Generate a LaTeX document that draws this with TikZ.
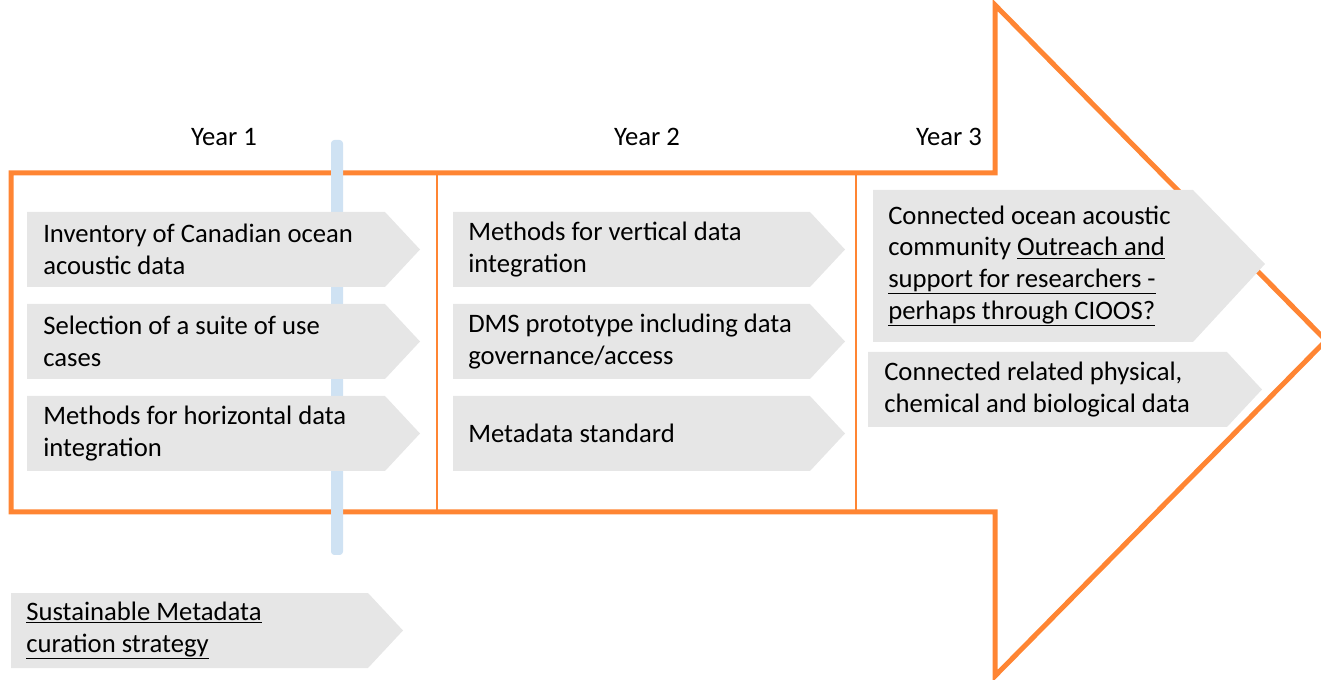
\documentclass[tikz,border=0pt]{standalone}
\usepackage{fontspec}
\setmainfont{Carlito}

\definecolor{arroworange}{RGB}{255,133,51}
\definecolor{chevgray}{RGB}{230,230,230}
\definecolor{barblue}{RGB}{207,226,243}

\tikzset{
  milestone/.style={anchor=west,inner sep=0.75pt,align=left,font=\fontsize{20}{23.8}\selectfont},
  yearlabel/.style={inner sep=0.75pt,font=\fontsize{20}{23.8}\selectfont},
}

\begin{document}
\begin{tikzpicture}[x=0.75pt,y=0.75pt,yscale=-1,xscale=1]
\useasboundingbox (0,0) rectangle (1321,680);

%Big Arrow [id:outline] 
\draw [color=arroworange][line width=3.75pt]  (11,173) -- (995,173) -- (995,5) -- (1326,340.5) -- (995,676) -- (995,512) -- (11,512) -- cycle ;
%Straight Lines [id:divider1] 
\draw [color=arroworange][line width=1.5pt]  (437,173) -- (437,512) ;
%Straight Lines [id:divider2] 
\draw [color=arroworange][line width=1.5pt]  (856,173) -- (856,512) ;
%Rounded Rect [id:bluebar] 
\fill [color=barblue][rounded corners=2.5pt]  (331,140) rectangle (343,555) ;

%Pentagon Arrow [id:year1a] 
\fill [color=chevgray]  (27,212) -- (385,212) -- (420,249.5) -- (385,287) -- (27,287) -- cycle ;
%Pentagon Arrow [id:year1b] 
\fill [color=chevgray]  (27,304) -- (385,304) -- (420,341.5) -- (385,379) -- (27,379) -- cycle ;
%Pentagon Arrow [id:year1c] 
\fill [color=chevgray]  (27,396) -- (385,396) -- (420,433.5) -- (385,471) -- (27,471) -- cycle ;
%Pentagon Arrow [id:year2a] 
\fill [color=chevgray]  (453,212) -- (810,212) -- (845,249.5) -- (810,287) -- (453,287) -- cycle ;
%Pentagon Arrow [id:year2b] 
\fill [color=chevgray]  (453,304) -- (810,304) -- (845,341.5) -- (810,379) -- (453,379) -- cycle ;
%Pentagon Arrow [id:year2c] 
\fill [color=chevgray]  (453,396) -- (810,396) -- (845,433.5) -- (810,471) -- (453,471) -- cycle ;
%Pentagon Arrow [id:year3a] 
\fill [color=chevgray]  (873,190) -- (1193,190) -- (1265,264) -- (1193,342) -- (873,342) -- cycle ;
%Pentagon Arrow [id:year3b] 
\fill [color=chevgray]  (868,352) -- (1227,352) -- (1262,389.5) -- (1227,427) -- (868,427) -- cycle ;
%Pentagon Arrow [id:curation] 
\fill [color=chevgray]  (11,593) -- (368,593) -- (403,630.5) -- (368,668) -- (11,668) -- cycle ;

% Text Node
\draw (224,137) node [yearlabel] (y1) {Year 1};
% Text Node
\draw (647,137) node [yearlabel] (y2) {Year 2};
% Text Node
\draw (949,137) node [yearlabel] (y3) {Year 3};

% Text Node
\draw (42,249.5) node [milestone] (inv) {Inventory of Canadian ocean\\acoustic data};
% Text Node
\draw (42,341.5) node [milestone] (sel) {Selection of a suite of use\\cases};
% Text Node
\draw (42,433.5) node [milestone] (horiz) {Methods for horizontal data\\integration};
% Text Node
\draw (467,249.5) node [milestone] (vert) {Methods for vertical data\\integration};
% Text Node
\draw (467,341.5) node [milestone] (dms) {DMS prototype including data\\governance/access};
% Text Node
\draw (467,433.5) node [milestone] (meta) {Metadata standard};
% Text Node
\draw (887,266) node [milestone] (comm) {Connected ocean acoustic\\community \underline{Outreach and}\\\underline{support for researchers -}\\\underline{perhaps through CIOOS?}};
% Text Node
\draw (883,389.5) node [milestone] (phys) {Connected related physical,\\chemical and biological data};
% Text Node
\draw (25,630.5) node [milestone] (cur) {\underline{Sustainable Metadata}\\\underline{curation strategy}};

\end{tikzpicture}
\end{document}
